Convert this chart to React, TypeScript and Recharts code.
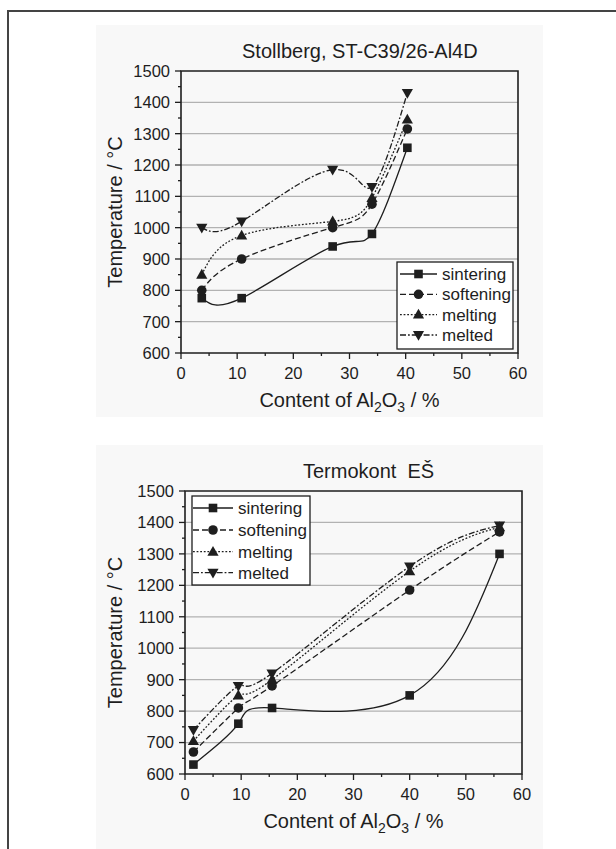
import React from 'react';
import { LineChart, Line, XAxis, YAxis, CartesianGrid, ReferenceArea } from 'recharts';

// Stollberg, ST-C39/26-Al4D
const topX = [3.7, 10.8, 27, 34, 40.3];
const topSintering = [775, 775, 940, 980, 1255];
const topSoftening = [800, 900, 1000, 1075, 1315];
const topMelting = [850, 975, 1020, 1095, 1345];
const topMelted = [1000, 1020, 1185, 1130, 1430];

// Termokont EŠ
const bottomX = [1.5, 9.5, 15.5, 40, 56];
const bottomSintering = [630, 760, 810, 850, 1300];
const bottomSoftening = [670, 810, 880, 1185, 1370];
const bottomMelting = [705, 850, 900, 1245, 1385];
const bottomMelted = [740, 880, 920, 1260, 1390];

const xTicks = [0, 5, 10, 15, 20, 25, 30, 35, 40, 45, 50, 55, 60];
const yTicks = [600, 650, 700, 750, 800, 850, 900, 950, 1000, 1050, 1100, 1150, 1200, 1250, 1300, 1350, 1400, 1450, 1500];
const gridValues = [700, 800, 900, 1000, 1100, 1200, 1300, 1400];

const FONT = "'Liberation Sans', Arial, Helvetica, sans-serif";
const INK = '#1e1e1e';

type Shape = 'square' | 'circle' | 'up' | 'down';

const SERIES: { name: string; dash?: string; shape: Shape }[] = [
  { name: 'sintering', shape: 'square' },
  { name: 'softening', dash: '6 3', shape: 'circle' },
  { name: 'melting', dash: '1.8 1.8', shape: 'up' },
  { name: 'melted', dash: '6 2 1.8 2', shape: 'down' },
];

function mark(shape: Shape, cx: number, cy: number, key?: string) {
  if (cx == null || cy == null) return <g key={key} />;
  switch (shape) {
    case 'square':
      return <rect key={key} x={cx - 4.3} y={cy - 4.3} width={8.6} height={8.6} fill={INK} />;
    case 'circle':
      return <circle key={key} cx={cx} cy={cy} r={4.8} fill={INK} />;
    case 'up':
      return <polygon key={key} points={`${cx},${cy - 5.8} ${cx + 5.6},${cy + 4} ${cx - 5.6},${cy + 4}`} fill={INK} />;
    default:
      return <polygon key={key} points={`${cx - 5.6},${cy - 4} ${cx + 5.6},${cy - 4} ${cx},${cy + 5.8}`} fill={INK} />;
  }
}

const YTick = (props: any) => {
  const { x, y, payload } = props;
  const major = payload.value % 100 === 0;
  return (
    <g>
      <line x1={x - (major ? 6 : 3)} x2={x} y1={y} y2={y} stroke={INK} strokeWidth={1.3} />
      {major && (
        <text x={x - 11} y={y} dy="0.36em" textAnchor="end" fontSize={16.5} fontFamily={FONT} fill={INK}>
          {payload.value}
        </text>
      )}
    </g>
  );
};

const XTick = (props: any) => {
  const { x, y, payload } = props;
  const major = payload.value % 10 === 0;
  return (
    <g>
      <line x1={x} x2={x} y1={y} y2={y + (major ? 6 : 3)} stroke={INK} strokeWidth={1.3} />
      {major && (
        <text x={x} y={y + 26} textAnchor="middle" fontSize={16.5} fontFamily={FONT} fill={INK}>
          {payload.value}
        </text>
      )}
    </g>
  );
};

interface LegendBox {
  x: number;
  y: number;
  w: number;
  h: number;
  rows: number[];
  lineX1: number;
  lineX2: number;
  textX: number;
}

interface PanelProps {
  top: number;
  title: string;
  titleX: number;
  xs: number[];
  values: number[][];
  margin: { top: number; right: number; bottom: number; left: number };
  yTitleY: number;
  xTitleX: number;
  xTitleY: number;
  legend: LegendBox;
}

const Panel: React.FC<PanelProps> = ({ top, title, titleX, xs, values, margin, yTitleY, xTitleX, xTitleY, legend }) => {
  const data = xs.map((x, i) => {
    const row: Record<string, number> = { x };
    SERIES.forEach((s, k) => {
      row[s.name] = values[k][i];
    });
    return row;
  });
  const mid = (legend.lineX1 + legend.lineX2) / 2;

  return (
    <div style={{ position: 'absolute', left: 0, top, width: 616, height: 420 }}>
      <LineChart width={616} height={420} data={data} margin={margin}>
        <CartesianGrid vertical={false} horizontalValues={gridValues} stroke="#b2b2b2" strokeWidth={1.3} />
        <XAxis
          dataKey="x"
          type="number"
          domain={[0, 60]}
          ticks={xTicks}
          interval={0}
          height={30}
          axisLine={false}
          tickLine={false}
          tickSize={0}
          tickMargin={0}
          tick={<XTick />}
        />
        <YAxis
          type="number"
          domain={[600, 1500]}
          ticks={yTicks}
          interval={0}
          width={60}
          axisLine={false}
          tickLine={false}
          tickSize={0}
          tickMargin={0}
          tick={<YTick />}
        />
        <ReferenceArea x1={0} x2={60} y1={600} y2={1500} fill="none" stroke={INK} strokeWidth={1.6} ifOverflow="visible" />
        {SERIES.map((s) => (
          <Line
            key={s.name}
            dataKey={s.name}
            type="natural"
            stroke={INK}
            strokeWidth={1.3}
            strokeDasharray={s.dash}
            dot={(p: any) => mark(s.shape, p.cx, p.cy, `${s.name}-${p.index}`)}
            activeDot={false}
            isAnimationActive={false}
          />
        ))}
      </LineChart>

      <svg width={616} height={420} style={{ position: 'absolute', left: 0, top: 0, pointerEvents: 'none' }}>
        <text x={titleX} y={58} fontSize={20} fontFamily={FONT} fill={INK} style={{ whiteSpace: 'pre' }}>
          {title}
        </text>
        <text
          transform={`translate(122, ${yTitleY}) rotate(-90)`}
          textAnchor="middle"
          fontSize={20}
          fontFamily={FONT}
          fill={INK}
        >
          Temperature / °C
        </text>
        <text x={xTitleX} y={xTitleY} textAnchor="middle" fontSize={20} fontFamily={FONT} fill={INK} style={{ whiteSpace: 'pre' }}>
          Content of Al
          <tspan fontSize={14} dy={5}>2</tspan>
          <tspan fontSize={20} dy={-5}>O</tspan>
          <tspan fontSize={14} dy={5}>3</tspan>
          <tspan fontSize={20} dy={-5}>{' / %'}</tspan>
        </text>

        <rect x={legend.x} y={legend.y} width={legend.w} height={legend.h} fill="#fff" stroke={INK} strokeWidth={1.3} />
        {SERIES.map((s, k) => {
          const ry = legend.rows[k];
          return (
            <g key={s.name}>
              <line x1={legend.lineX1} x2={legend.lineX2} y1={ry} y2={ry} stroke={INK} strokeWidth={1.3} strokeDasharray={s.dash} />
              {mark(s.shape, mid, ry)}
              <text x={legend.textX} y={ry} dy="0.35em" fontSize={17} fontFamily={FONT} fill={INK}>
                {s.name}
              </text>
            </g>
          );
        })}
      </svg>
    </div>
  );
};

export default function App() {
  return (
    <div style={{ position: 'absolute', left: 0, top: 0, width: 616, height: 849, overflow: 'hidden', background: '#fff' }}>
      <div style={{ position: 'absolute', left: 96, top: 25, width: 447, height: 392, background: '#f8f8f8' }} />
      <div style={{ position: 'absolute', left: 96, top: 445, width: 447, height: 404, background: '#f8f8f8' }} />
      <div style={{ position: 'absolute', left: 7, top: 10, width: 640, height: 900, border: '2px solid #444' }} />

      <Panel
        top={0}
        title="Stollberg, ST-C39/26-Al4D"
        titleX={242}
        xs={topX}
        values={[topSintering, topSoftening, topMelting, topMelted]}
        margin={{ top: 71, right: 98, bottom: 37, left: 121 }}
        yTitleY={212}
        xTitleX={349.5}
        xTitleY={407}
        legend={{ x: 397, y: 262, w: 116, h: 87, rows: [274, 294.3, 314.6, 335], lineX1: 400, lineX2: 437, textX: 442 }}
      />
      <Panel
        top={420}
        title="Termokont  EŠ"
        titleX={303}
        xs={bottomX}
        values={[bottomSintering, bottomSoftening, bottomMelting, bottomMelted]}
        margin={{ top: 71, right: 94, bottom: 36, left: 125 }}
        yTitleY={212.5}
        xTitleX={353.5}
        xTitleY={408}
        legend={{ x: 192, y: 76, w: 118, h: 89, rows: [88, 110, 131.7, 152.7], lineX1: 193, lineX2: 233, textX: 238 }}
      />
    </div>
  );
}
